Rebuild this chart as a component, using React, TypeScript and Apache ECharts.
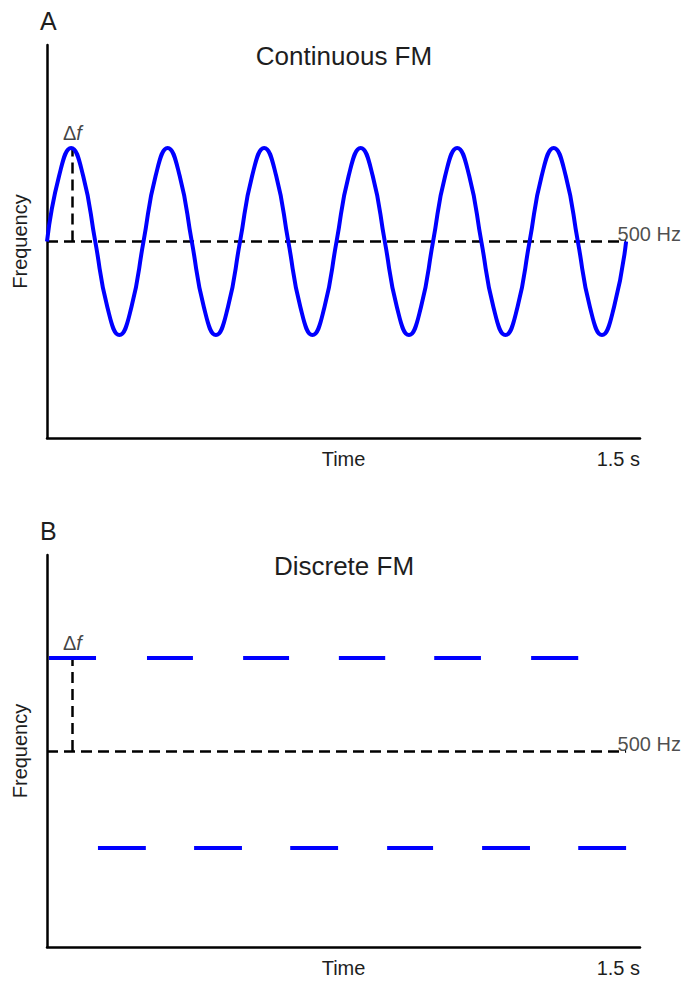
import React, { useEffect, useRef } from "react";
import * as echarts from "echarts";

// Panel A: continuous FM wave, points read every 1/8 period (time s, frequency Hz)
const waveTime = [
  0, 0.03125, 0.0625, 0.09375, 0.125, 0.15625, 0.1875, 0.21875,
  0.25, 0.28125, 0.3125, 0.34375, 0.375, 0.40625, 0.4375, 0.46875,
  0.5, 0.53125, 0.5625, 0.59375, 0.625, 0.65625, 0.6875, 0.71875,
  0.75, 0.78125, 0.8125, 0.84375, 0.875, 0.90625, 0.9375, 0.96875,
  1.0, 1.03125, 1.0625, 1.09375, 1.125, 1.15625, 1.1875, 1.21875,
  1.25, 1.28125, 1.3125, 1.34375, 1.375, 1.40625, 1.4375, 1.46875, 1.5,
];
const waveFreq = [
  500, 535, 550, 535, 500, 465, 450, 465,
  500, 535, 550, 535, 500, 465, 450, 465,
  500, 535, 550, 535, 500, 465, 450, 465,
  500, 535, 550, 535, 500, 465, 450, 465,
  500, 535, 550, 535, 500, 465, 450, 465,
  500, 535, 550, 535, 500, 465, 450, 465, 500,
];

// Panel B: discrete FM segments [start, end] in seconds
const upperStart = [0.005, 0.259, 0.508, 0.756, 1.003, 1.254];
const upperEnd = [0.127, 0.378, 0.627, 0.876, 1.124, 1.376];
const lowerStart = [0.132, 0.381, 0.63, 0.881, 1.127, 1.376];
const lowerEnd = [0.256, 0.505, 0.754, 1.0, 1.251, 1.5];
const upperFreq = 550;
const lowerFreq = 448;

const carrier = 500;
const deltaTime = 0.0645;
const endTime = 1.5;
const yMin = 395;
const yMax = 605;
const xMax = 1.536;

const titles = ["Continuous FM", "Discrete FM"];
const panelLetters = ["A", "B"];
const xName = "Time";
const yName = "Frequency";
const endLabel = "1.5 s";
const carrierLabel = "500 Hz";

const FONT = "'Liberation Sans', Arial, Helvetica, sans-serif";
const TEXT = "#1e1e1e";
const BLUE = "#0000ff";

export default function App() {
  const ref = useRef<HTMLDivElement>(null);
  useEffect(() => {
    if (!ref.current) return;
    const chart = echarts.init(ref.current, null, { renderer: "svg" });

    const grids = [
      { left: 47, right: 48, top: 45, height: 393, containLabel: false, outerBoundsMode: "none" },
      { left: 47, right: 48, top: 555, height: 392, containLabel: false, outerBoundsMode: "none" },
    ];

    const xAxes = [0, 1].map((i) => ({
      type: "value",
      gridIndex: i,
      min: 0,
      max: xMax,
      axisLine: { show: true, lineStyle: { color: "#000", width: 2.5 } },
      axisTick: { show: false },
      axisLabel: { show: false },
      splitLine: { show: false },
      name: xName,
      nameLocation: "middle",
      nameGap: 11,
      nameTextStyle: { fontFamily: FONT, fontSize: 20, color: TEXT, verticalAlign: "top" },
    }));
    const yAxes = [0, 1].map((i) => ({
      type: "value",
      gridIndex: i,
      min: yMin,
      max: yMax,
      axisLine: { show: true, onZero: false, lineStyle: { color: "#000", width: 2.5 } },
      axisTick: { show: false },
      axisLabel: { show: false },
      splitLine: { show: false },
      name: yName,
      nameLocation: "middle",
      nameGap: 17,
      nameTextStyle: { fontFamily: FONT, fontSize: 20, color: TEXT },
    }));

    const dash = [11, 6];
    const dashedLines = (i: number, top: number) => ({
      type: "lines",
      coordinateSystem: "cartesian2d",
      xAxisIndex: i,
      yAxisIndex: i,
      silent: true,
      lineStyle: { color: "#000", width: 2.5, type: dash, opacity: 1 },
      data: [
        { coords: [[0, carrier], [endTime, carrier]] },
        { coords: [[deltaTime, carrier], [deltaTime, top]] },
      ],
    });

    const labelSeries = (i: number, top: number) => ({
      type: "scatter",
      xAxisIndex: i,
      yAxisIndex: i,
      silent: true,
      symbolSize: 1,
      itemStyle: { color: "rgba(0,0,0,0)" },
      data: [
        {
          value: [deltaTime, top],
          label: {
            show: true,
            position: [0, 0],
            align: "center",
            verticalAlign: "bottom",
            offset: [1, -4],
            formatter: "{d|Δ}{f|f}",
            rich: {
              d: { fontFamily: FONT, fontSize: 20, color: "#111" },
              f: { fontFamily: FONT, fontSize: 20, color: "#111", fontStyle: "italic" },
            },
          },
        },
        {
          value: [endTime, carrier],
          label: {
            show: true,
            position: [0, 0],
            align: "left",
            verticalAlign: "bottom",
            offset: [-8, 3],
            formatter: carrierLabel,
            fontFamily: FONT,
            fontSize: 20,
            color: TEXT,
          },
        },
      ],
    });

    const segData = [
      ...upperStart.map((s, k) => ({ coords: [[s, upperFreq], [upperEnd[k], upperFreq]] })),
      ...lowerStart.map((s, k) => ({ coords: [[s, lowerFreq], [lowerEnd[k], lowerFreq]] })),
    ];

    const titleStyle = { fontFamily: FONT, fontSize: 26, fontWeight: "normal", color: TEXT };

    const option = {
      animation: false,
      title: [
        { text: titles[0], left: "center", top: 43, padding: 0, textStyle: titleStyle },
        { text: titles[1], left: "center", top: 553, padding: 0, textStyle: titleStyle },
      ],
      grid: grids,
      xAxis: xAxes,
      yAxis: yAxes,
      graphic: [
        { type: "text", left: 40, top: 8, style: { text: panelLetters[0], font: `25px ${FONT}`, fill: TEXT } },
        { type: "text", left: 40, top: 518, style: { text: panelLetters[1], font: `25px ${FONT}`, fill: TEXT } },
        { type: "text", x: 640, y: 459, style: { text: endLabel, font: `20px ${FONT}`, fill: TEXT, textAlign: "right", textVerticalAlign: "middle" } },
        { type: "text", x: 640, y: 968, style: { text: endLabel, font: `20px ${FONT}`, fill: TEXT, textAlign: "right", textVerticalAlign: "middle" } },
      ],
      series: [
        dashedLines(0, upperFreq),
        {
          type: "line",
          xAxisIndex: 0,
          yAxisIndex: 0,
          silent: true,
          smooth: 0.5,
          showSymbol: false,
          lineStyle: { color: BLUE, width: 4 },
          data: waveTime.map((t, k) => [t, waveFreq[k]]),
        },
        labelSeries(0, upperFreq),
        dashedLines(1, upperFreq),
        {
          type: "lines",
          coordinateSystem: "cartesian2d",
          xAxisIndex: 1,
          yAxisIndex: 1,
          silent: true,
          lineStyle: { color: BLUE, width: 4, opacity: 1 },
          data: segData,
        },
        labelSeries(1, upperFreq),
      ],
    };
    chart.setOption(option as any);
    return () => chart.dispose();
  }, []);
  return <div ref={ref} style={{ width: 688, height: 981, position: "absolute", left: 0, top: 0, background: "#fff" }} />;
}
